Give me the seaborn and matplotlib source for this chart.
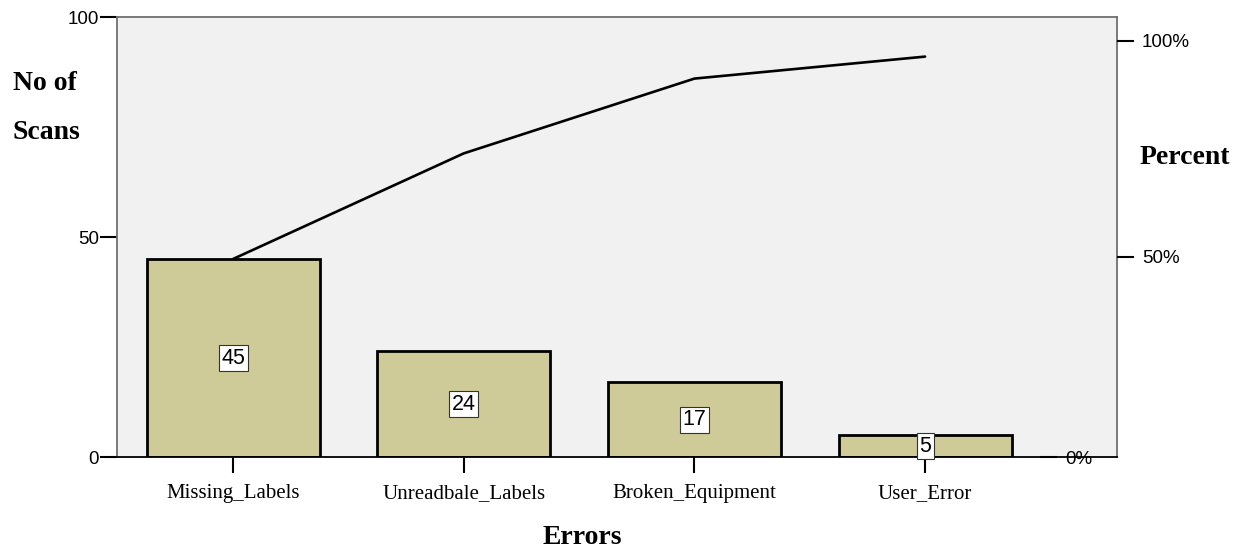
import matplotlib

matplotlib.use("Agg")
import matplotlib.pyplot as plt
import matplotlib.transforms as mtransforms
import numpy as np
import pandas as pd
import seaborn as sns

CATEGORIES = ["Missing_Labels", "Unreadbale_Labels", "Broken_Equipment", "User_Error"]
COUNTS = [45, 24, 17, 5]
LEFT_TICKS = [0, 50, 100]
PCT_TICKS = [0, 50, 100]
PCT_LABELS = ["0%", "50%", "100%"]

BAR_COLOR = "#cfcb98"
BG_COLOR = "#f0f1f0"
SPINE_GRAY = "#707070"


def main() -> None:
    df = pd.DataFrame({"error": CATEGORIES, "count": COUNTS})
    total = df["count"].sum()
    df["cum"] = df["count"].cumsum()
    pos = np.arange(len(df))

    sns.set_style("white")
    plt.rcParams["font.family"] = ["Liberation Sans", "DejaVu Sans"]
    plt.rcParams.update({
        "text.color": "black",
        "axes.labelcolor": "black",
        "xtick.color": "black",
        "ytick.color": "black",
    })

    fig = plt.figure(figsize=(12.44, 5.5), dpi=100)
    ax = fig.add_axes([117 / 1244, 93 / 550, 1000 / 1244, 440 / 550])
    ax.set_facecolor(BG_COLOR)

    sns.barplot(
        data=df, x="error", y="count", order=CATEGORIES, color=BAR_COLOR,
        width=0.75, edgecolor="black", linewidth=2.0, saturation=1, ax=ax,
    )
    sns.lineplot(x=pos, y=df["cum"].to_numpy(), color="black", linewidth=1.9, ax=ax)

    for i, v in enumerate(df["count"]):
        ax.text(
            i, v / 2, str(v), ha="center", va="center", fontsize=15.5,
            bbox=dict(boxstyle="square,pad=0.12", fc="white", ec="#333333", lw=0.8),
            zorder=5,
        )

    ax.set_xlim(-0.503, 3.832)
    ax.set_ylim(0, 100)
    ax.set_yticks(LEFT_TICKS)
    ax.set_xlabel("")
    ax.set_ylabel("")
    ax.set_xticks(pos)
    ax.set_xticklabels(CATEGORIES, family="Liberation Serif", fontsize=15)
    ax.tick_params(axis="y", length=12, width=1.5, pad=1, labelsize=13.5)
    ax.tick_params(axis="x", length=11.5, width=1.5, pad=8, direction="out")
    ax.tick_params(bottom=True, left=True)

    for side in ["left", "top", "right"]:
        ax.spines[side].set_color(SPINE_GRAY)
        ax.spines[side].set_linewidth(1.3)
    ax.spines["bottom"].set_color("black")
    ax.spines["bottom"].set_linewidth(1.3)

    ax2 = ax.twinx()
    ax2.set_ylim(0, 100 * 100 / total)
    ax2.set_yticks(PCT_TICKS)
    ax2.set_yticklabels(PCT_LABELS)
    ax2.tick_params(axis="y", length=12, width=1.5, pad=6, labelsize=13.5)
    for s in ax2.spines.values():
        s.set_visible(False)

    # SPSS quirks: 0% tick drawn inside the frame, 100% tick sits a bit high
    shifts = {0: (-77, 0), 2: (0, 16)}
    for idx, (dx, dy) in shifts.items():
        tick = ax2.yaxis.get_major_ticks()[idx]
        off = mtransforms.ScaledTranslation(dx / 100, dy / 100, fig.dpi_scale_trans)
        tick.tick2line.set_transform(tick.tick2line.get_transform() + off)
        tick.label2.set_transform(tick.label2.get_transform() + off)

    fig.text(13 / 1244, 1 - 108 / 550, "No of\n\nScans", family="Liberation Serif",
             fontweight="bold", fontsize=20, ha="left", va="center", linespacing=0.95)
    fig.text(1140 / 1244, 1 - 157 / 550, "Percent", family="Liberation Serif",
             fontweight="bold", fontsize=20, ha="left", va="center")
    fig.text(582 / 1244, 1 - 537 / 550, "Errors", family="Liberation Serif",
             fontweight="bold", fontsize=20, ha="center", va="center")

    fig.savefig("out.png", dpi=100)
    plt.close(fig)


if __name__ == "__main__":
    main()
